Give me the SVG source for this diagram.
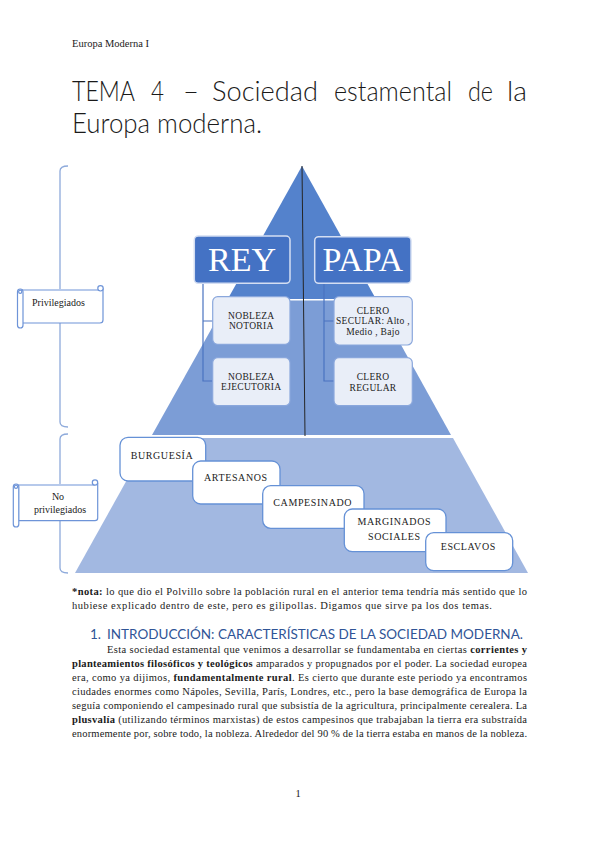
<svg xmlns="http://www.w3.org/2000/svg" width="599" height="848" viewBox="0 0 599 848">
<style>
.serif{font-family:"Liberation Serif","Times New Roman",serif;fill:#1a1a1a}
.lbl{font-family:"Liberation Serif","Times New Roman",serif;font-size:9.5px;fill:#222;text-anchor:middle;letter-spacing:0.3px}
.blbl{font-family:"Liberation Serif","Times New Roman",serif;font-size:10px;fill:#222;letter-spacing:0.6px}
.big{font-family:"Liberation Serif","Times New Roman",serif;font-size:34px;fill:#ffffff;text-anchor:middle}
.hbox{fill:#4472c4;stroke:#d4def2;stroke-width:1.5}
.sbox{fill:#e9eef8;stroke:#8aa7dc;stroke-width:1.2}
.wbox{fill:#ffffff;stroke:#6591d6;stroke-width:1.3}
.conn{fill:none;stroke:#4a73c0;stroke-width:1.2}
.brk{fill:none;stroke:#8eaadb;stroke-width:1.3}
.scroll{fill:#ffffff;stroke:#6e94d8;stroke-width:1.2}
.para{font-family:"Liberation Serif","Times New Roman",serif;font-size:10.5px;fill:#1a1a1a}
</style>
<rect width="599" height="848" fill="#ffffff"/>
<text class="serif" x="72" y="47" font-size="10.5">Europa Moderna I</text>
<g id="title" font-family="Lato,'Open Sans',sans-serif" font-weight="300" font-size="27" fill="#1a1a1a">
<text x="72" y="101" textLength="63" lengthAdjust="spacingAndGlyphs">TEMA</text>
<text x="151" y="101" textLength="13" lengthAdjust="spacingAndGlyphs">4</text>
<text x="183" y="101" textLength="16" lengthAdjust="spacingAndGlyphs">–</text>
<text x="212" y="101" textLength="106" lengthAdjust="spacingAndGlyphs">Sociedad</text>
<text x="334" y="101" textLength="118" lengthAdjust="spacingAndGlyphs">estamental</text>
<text x="468" y="101" textLength="25" lengthAdjust="spacingAndGlyphs">de</text>
<text x="507" y="101" textLength="20" lengthAdjust="spacingAndGlyphs">la</text>
<text x="72" y="133" textLength="190" lengthAdjust="spacingAndGlyphs">Europa moderna.</text>
</g>
<g id="pyramid">
<polygon points="302,166 227.8,299 375.9,299" fill="#5482cc"/>
<polygon points="227.3,300.5 376.4,300.5 451,435 152,435" fill="#7c9dd6"/>
<polygon points="150.3,438 453,438 528,573 75,573" fill="#a2b8e1"/>
</g>
<g id="connectors">
<line x1="302" y1="166" x2="305" y2="436" stroke="#262626" stroke-width="1"/>
<path class="conn" d="M203,283 V381 H213 M203,321 H213"/>
<path class="conn" d="M324,283 V381 H334 M324,321 H334"/>
<path class="brk" d="M68,166 Q60,166 60,171 V422 Q60,427 68,427"/>
<path class="brk" d="M68,434 Q60,434 60,439 V568 Q60,573 68,573"/>
</g>
<g id="rey">
<rect class="hbox" x="194.3" y="236" width="95.7" height="47.3" rx="4"/>
<text class="big" x="242" y="271">REY</text>
</g>
<g id="papa">
<rect class="hbox" x="314.7" y="236.7" width="96.3" height="46.6" rx="4"/>
<text class="big" x="362.8" y="271">PAPA</text>
</g>
<g id="nobleza-notoria">
<rect class="sbox" x="212.7" y="296.7" width="77.3" height="47.6" rx="5"/>
<text class="lbl" x="251.3" y="319"><tspan x="251.3">NOBLEZA</tspan><tspan x="251.3" y="329">NOTORIA</tspan></text>
</g>
<g id="nobleza-ejecutoria">
<rect class="sbox" x="212.7" y="357.7" width="77.3" height="48" rx="5"/>
<text class="lbl" x="251.3" y="380"><tspan x="251.3">NOBLEZA</tspan><tspan x="251.3" y="390">EJECUTORIA</tspan></text>
</g>
<g id="clero-secular">
<rect class="sbox" x="334" y="296.7" width="78.3" height="48.3" rx="5"/>
<text class="lbl" x="373" y="313.5" letter-spacing="0"><tspan x="373">CLERO</tspan><tspan x="373" y="324">SECULAR: Alto ,</tspan><tspan x="373" y="334.5">Medio , Bajo</tspan></text>
</g>
<g id="clero-regular">
<rect class="sbox" x="334" y="357.7" width="78.3" height="48" rx="5"/>
<text class="lbl" x="373" y="379.5" font-size="7.5">CLERO</text>
<text class="lbl" x="373" y="391">REGULAR</text>
</g>
<g id="privilegiados">
<path class="scroll" d="M22,290 H100 M103,288 V320 Q103,323 100,323 H22 V290"/>
<circle class="scroll" cx="100.5" cy="288.3" r="2.7"/>
<rect class="scroll" x="17.5" y="289" width="5.5" height="39" rx="2.75"/>
<circle class="scroll" cx="20.2" cy="291.8" r="1.6"/>
<text class="serif" x="32" y="306" font-size="10">Privilegiados</text>
</g>
<g id="no-privilegiados">
<path class="scroll" d="M18.5,485 H95 M97.7,483 V518 Q97.7,520.7 95,520.7 H18.5 V485"/>
<circle class="scroll" cx="95" cy="482.5" r="2.7"/>
<rect class="scroll" x="13.3" y="484" width="5.5" height="43" rx="2.75"/>
<circle class="scroll" cx="16" cy="486.8" r="1.6"/>
<text class="serif" x="58" y="499.5" font-size="10" text-anchor="middle">No</text>
<text class="serif" x="60" y="513" font-size="10" text-anchor="middle">privilegiados</text>
</g>
<g id="burguesia">
<rect class="wbox" x="120" y="437.3" width="85.7" height="43.7" rx="8"/>
<text class="blbl" x="130.7" y="458.5">BURGUESÍA</text>
</g>
<g id="artesanos">
<rect class="wbox" x="192.7" y="461" width="87.3" height="43" rx="8"/>
<text class="blbl" x="204" y="481">ARTESANOS</text>
</g>
<g id="campesinado">
<rect class="wbox" x="262.7" y="485.7" width="101.3" height="42.6" rx="8"/>
<text class="blbl" x="273.3" y="505.5">CAMPESINADO</text>
</g>
<g id="marginados">
<rect class="wbox" x="344.3" y="509" width="101.7" height="42.7" rx="8"/>
<text class="blbl" x="394.3" y="525" text-anchor="middle">MARGINADOS</text>
<text class="blbl" x="394.3" y="539.5" text-anchor="middle">SOCIALES</text>
</g>
<g id="esclavos">
<rect class="wbox" x="425.7" y="532.7" width="87" height="38" rx="8"/>
<text class="blbl" x="468.3" y="550" text-anchor="middle">ESCLAVOS</text>
</g>
<g id="nota">
<text class="para" x="72" y="595" textLength="455" lengthAdjust="spacing"><tspan font-weight="bold">*nota:</tspan> lo que dio el Polvillo sobre la población rural en el anterior tema tendría más sentido que lo</text>
<text class="para" x="72" y="609" textLength="420" lengthAdjust="spacing">hubiese explicado dentro de este, pero es gilipollas. Digamos que sirve pa los dos temas.</text>
</g>
<g id="heading" font-family="Lato,'Liberation Sans',sans-serif" font-size="13.5" fill="#2f5496">
<text x="90" y="639">1.</text>
<text x="107" y="639" textLength="416" lengthAdjust="spacingAndGlyphs">INTRODUCCIÓN: CARACTERÍSTICAS DE LA SOCIEDAD MODERNA.</text>
</g>
<g id="paragraph">
<text class="para" x="107" y="653" textLength="420" lengthAdjust="spacing">Esta sociedad estamental que venimos a desarrollar se fundamentaba en ciertas <tspan font-weight="bold">corrientes y</tspan></text>
<text class="para" x="72" y="667" textLength="455" lengthAdjust="spacing"><tspan font-weight="bold">planteamientos filosóficos y teológicos</tspan> amparados y propugnados por el poder. La sociedad europea</text>
<text class="para" x="72" y="681" textLength="455" lengthAdjust="spacing">era, como ya dijimos, <tspan font-weight="bold">fundamentalmente rural</tspan>. Es cierto que durante este periodo ya encontramos</text>
<text class="para" x="72" y="695" textLength="455" lengthAdjust="spacing">ciudades enormes como Nápoles, Sevilla, París, Londres, etc., pero la base demográfica de Europa la</text>
<text class="para" x="72" y="709" textLength="455" lengthAdjust="spacing">seguía componiendo el campesinado rural que subsistía de la agricultura, principalmente cerealera. La</text>
<text class="para" x="72" y="723" textLength="455" lengthAdjust="spacing"><tspan font-weight="bold">plusvalía</tspan> (utilizando términos marxistas) de estos campesinos que trabajaban la tierra era substraída</text>
<text class="para" x="72" y="737" textLength="455" lengthAdjust="spacing">enormemente por, sobre todo, la nobleza. Alrededor del 90 % de la tierra estaba en manos de la nobleza.</text>
</g>
<text class="para" x="298" y="797" text-anchor="middle">1</text>
</svg>
